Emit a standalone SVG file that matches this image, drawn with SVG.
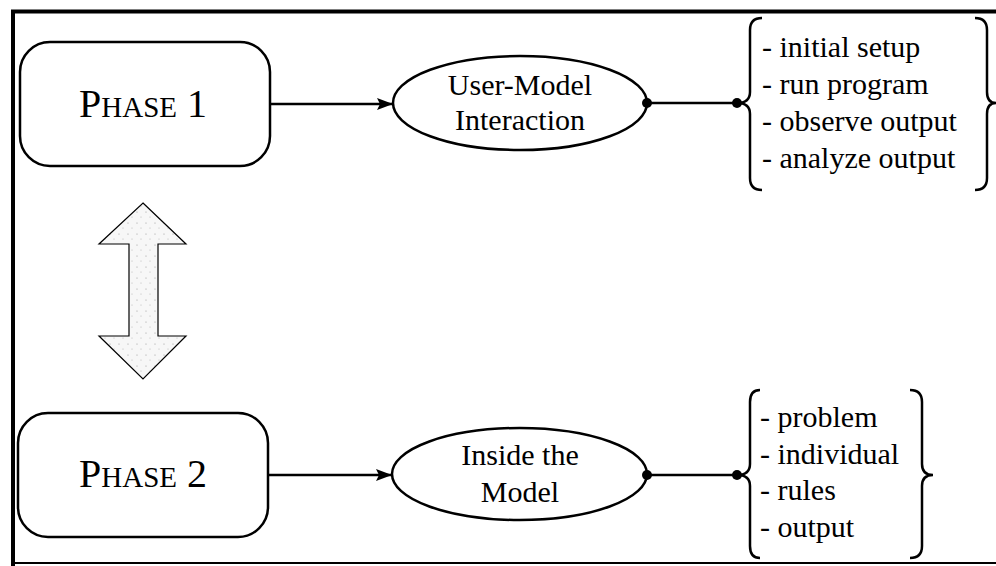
<svg xmlns="http://www.w3.org/2000/svg" width="996" height="566" viewBox="0 0 996 566">
<defs>
<style>
.box{fill:#fff;stroke:#000;stroke-width:2.5}
.ell{fill:#fff;stroke:#000;stroke-width:2.5}
.t{font-family:"Liberation Serif","Times New Roman",serif;fill:#000}
.ph{font-size:40px;text-anchor:middle}
.sc{font-size:29px}
.el{font-size:30px;text-anchor:middle}
.li{font-size:30px}
.conn{stroke:#000;stroke-width:2.5;fill:none}
.brace{stroke:#000;stroke-width:2.5;fill:none}
</style>
<marker id="arr" viewBox="0 0 16 12" refX="16" refY="6" markerWidth="16" markerHeight="12" markerUnits="userSpaceOnUse" orient="auto">
<path d="M0,0 L16,6 L0,12 L3,6 z" fill="#000"/>
</marker>
<pattern id="stip" width="9" height="11" patternUnits="userSpaceOnUse">
<rect width="9" height="11" fill="#f7f7f7"/>
<circle cx="2" cy="3" r="0.6" fill="#999"/>
<circle cx="6" cy="8" r="0.5" fill="#aaa"/>
</pattern>
</defs>
<rect width="996" height="566" fill="#fff"/>
<g id="frame" fill="none" stroke="#000">
<line x1="13" y1="10" x2="13" y2="566" stroke-width="4"/>
<line x1="11" y1="11.5" x2="996" y2="11.5" stroke-width="4"/>
<line x1="11" y1="563" x2="996" y2="563" stroke-width="2"/>
</g>
<g id="phase1">
<rect class="box" x="20" y="42" width="250" height="124" rx="30" ry="30"/>
<text class="t ph" x="143" y="117">P<tspan class="sc">HASE</tspan> 1</text>
</g>
<g id="phase2">
<rect class="box" x="18" y="413" width="250" height="124" rx="30" ry="30"/>
<text class="t ph" x="143" y="487">P<tspan class="sc">HASE</tspan> 2</text>
</g>
<g id="double-arrow">
<polygon points="143,203 186,244 158,244 158,336 186,336 143,379 99,336 129,336 129,244 99,244" fill="url(#stip)" stroke="#000" stroke-width="1.2"/>
</g>
<g id="user-model">
<ellipse class="ell" cx="520" cy="103" rx="127" ry="47"/>
<text class="t el" x="520" y="95">User-Model</text>
<text class="t el" x="520" y="130">Interaction</text>
</g>
<g id="inside-model">
<ellipse class="ell" cx="519.5" cy="474" rx="127.5" ry="46"/>
<text class="t el" x="520" y="465">Inside the</text>
<text class="t el" x="520" y="502">Model</text>
</g>
<g id="list1">
<path class="brace" d="M762,18 Q750,18 750,30 L750,92 Q750,103 737,103 Q750,103 750,114 L750,178 Q750,190 762,190"/>
<path class="brace" d="M975,18 Q987,18 987,30 L987,92 Q987,103 996,103 Q987,103 987,114 L987,178 Q987,190 975,190"/>
<text class="t li" x="762" y="57">- initial setup</text>
<text class="t li" x="762" y="94">- run program</text>
<text class="t li" x="762" y="131">- observe output</text>
<text class="t li" x="762" y="168">- analyze output</text>
</g>
<g id="list2">
<path class="brace" d="M760,390 Q750,390 750,402 L750,464 Q750,475 737,475 Q750,475 750,486 L750,546 Q750,558 760,558"/>
<path class="brace" d="M910,390 Q922,390 922,402 L922,464 Q922,475 933,475 Q922,475 922,486 L922,546 Q922,558 910,558"/>
<text class="t li" x="760" y="427">- problem</text>
<text class="t li" x="760" y="464">- individual</text>
<text class="t li" x="760" y="500">- rules</text>
<text class="t li" x="760" y="537">- output</text>
</g>
<g id="connectors">
<line class="conn" x1="270" y1="104" x2="393" y2="104" marker-end="url(#arr)"/>
<line class="conn" x1="268" y1="475" x2="392" y2="475" marker-end="url(#arr)"/>
<line class="conn" x1="647" y1="103" x2="737" y2="103"/>
<circle cx="647" cy="103" r="5" fill="#000"/>
<circle cx="737" cy="103" r="5" fill="#000"/>
<line class="conn" x1="647" y1="475" x2="737" y2="475"/>
<circle cx="647" cy="475" r="5" fill="#000"/>
<circle cx="737" cy="475" r="5" fill="#000"/>
</g>
</svg>
